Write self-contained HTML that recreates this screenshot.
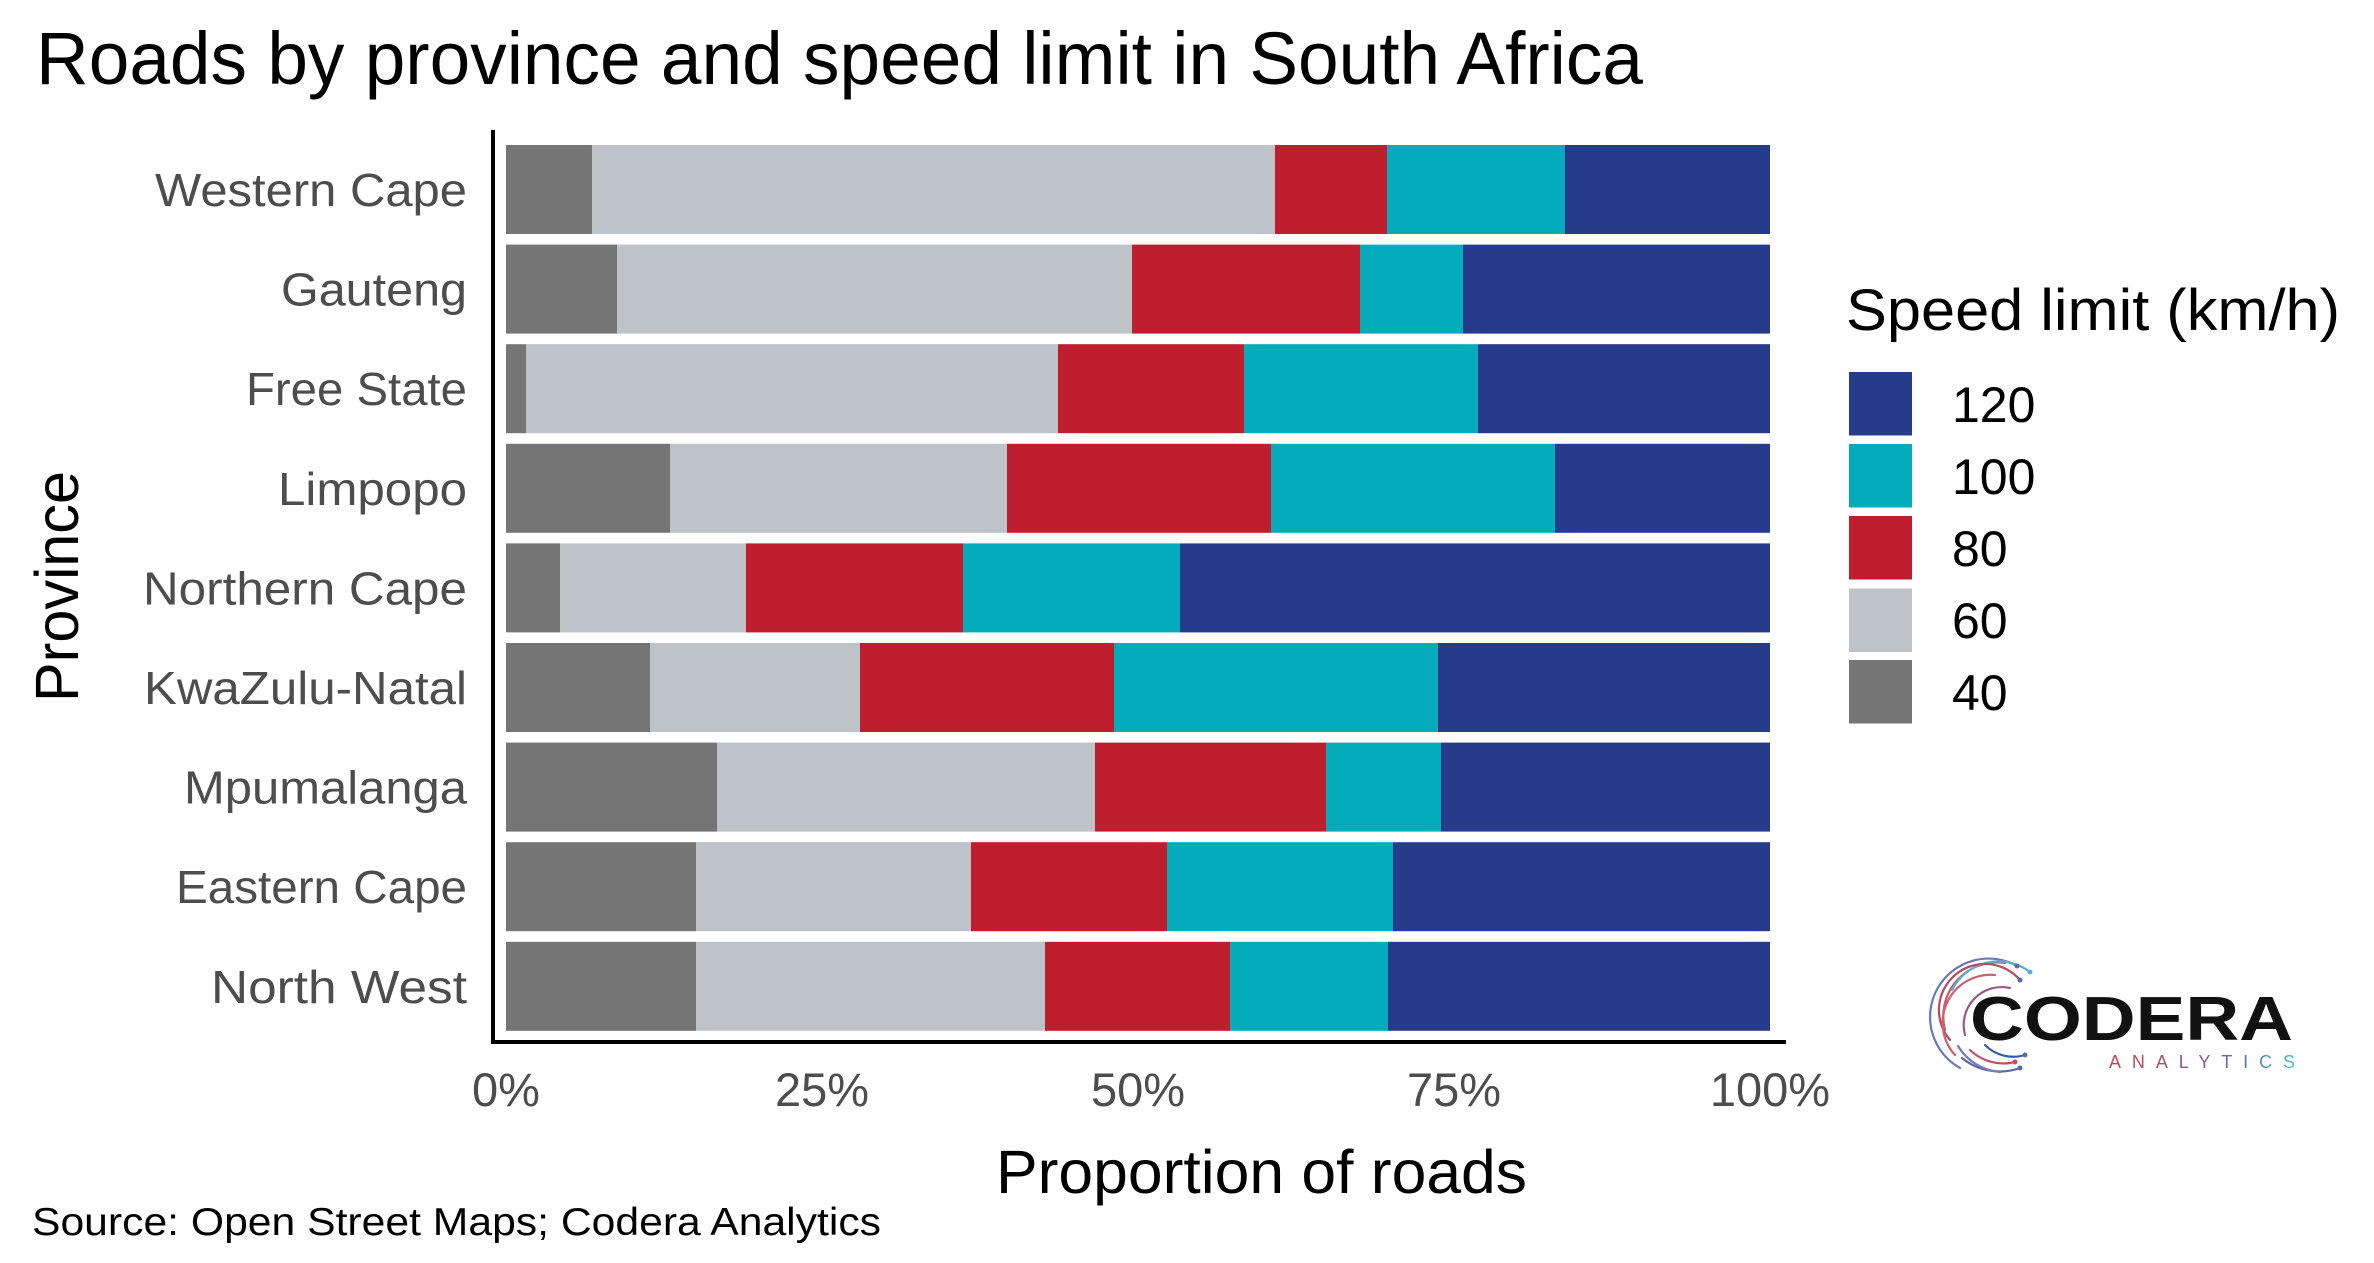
<!DOCTYPE html>
<html>
<head>
<meta charset="utf-8">
<style>
  html, body { margin: 0; padding: 0; background: #ffffff; }
  svg { display: block; }
  text { font-family: "Liberation Sans", "DejaVu Sans", sans-serif; }
</style>
</head>
<body>
<svg width="2374" height="1263" viewBox="0 0 2374 1263" xmlns="http://www.w3.org/2000/svg">
  <defs>
    <linearGradient id="anaGrad" x1="0" y1="0" x2="1" y2="0">
      <stop offset="0" stop-color="#c8464f"/>
      <stop offset="0.45" stop-color="#8a5a8a"/>
      <stop offset="0.7" stop-color="#5a6aa0"/>
      <stop offset="1" stop-color="#52c0cc"/>
    </linearGradient>
  </defs>
  <rect width="2374" height="1263" fill="#ffffff"/>

  <!-- Title -->
  <text x="36" y="84" font-size="74" fill="#000" textLength="1607" lengthAdjust="spacingAndGlyphs">Roads by province and speed limit in South Africa</text>

  <!-- Bars -->
  <g>
    <!-- Western Cape -->
    <rect x="506" y="145" width="86" height="89" fill="#757575"/>
    <rect x="592" y="145" width="683" height="89" fill="#bec3c9"/>
    <rect x="1275" y="145" width="112" height="89" fill="#be1e2d"/>
    <rect x="1387" y="145" width="178" height="89" fill="#04abbb"/>
    <rect x="1565" y="145" width="205" height="89" fill="#273b8b"/>
    <!-- Gauteng -->
    <rect x="506" y="244.6" width="111" height="89" fill="#757575"/>
    <rect x="617" y="244.6" width="515" height="89" fill="#bec3c9"/>
    <rect x="1132" y="244.6" width="228" height="89" fill="#be1e2d"/>
    <rect x="1360" y="244.6" width="103" height="89" fill="#04abbb"/>
    <rect x="1463" y="244.6" width="307" height="89" fill="#273b8b"/>
    <!-- Free State -->
    <rect x="506" y="344.2" width="20" height="89" fill="#757575"/>
    <rect x="526" y="344.2" width="532" height="89" fill="#bec3c9"/>
    <rect x="1058" y="344.2" width="186" height="89" fill="#be1e2d"/>
    <rect x="1244" y="344.2" width="234" height="89" fill="#04abbb"/>
    <rect x="1478" y="344.2" width="292" height="89" fill="#273b8b"/>
    <!-- Limpopo -->
    <rect x="506" y="443.8" width="164" height="89" fill="#757575"/>
    <rect x="670" y="443.8" width="337" height="89" fill="#bec3c9"/>
    <rect x="1007" y="443.8" width="264" height="89" fill="#be1e2d"/>
    <rect x="1271" y="443.8" width="284" height="89" fill="#04abbb"/>
    <rect x="1555" y="443.8" width="215" height="89" fill="#273b8b"/>
    <!-- Northern Cape -->
    <rect x="506" y="543.4" width="54" height="89" fill="#757575"/>
    <rect x="560" y="543.4" width="186" height="89" fill="#bec3c9"/>
    <rect x="746" y="543.4" width="217" height="89" fill="#be1e2d"/>
    <rect x="963" y="543.4" width="217" height="89" fill="#04abbb"/>
    <rect x="1180" y="543.4" width="590" height="89" fill="#273b8b"/>
    <!-- KwaZulu-Natal -->
    <rect x="506" y="643" width="144" height="89" fill="#757575"/>
    <rect x="650" y="643" width="210" height="89" fill="#bec3c9"/>
    <rect x="860" y="643" width="254" height="89" fill="#be1e2d"/>
    <rect x="1114" y="643" width="324" height="89" fill="#04abbb"/>
    <rect x="1438" y="643" width="332" height="89" fill="#273b8b"/>
    <!-- Mpumalanga -->
    <rect x="506" y="742.6" width="211" height="89" fill="#757575"/>
    <rect x="717" y="742.6" width="378" height="89" fill="#bec3c9"/>
    <rect x="1095" y="742.6" width="231" height="89" fill="#be1e2d"/>
    <rect x="1326" y="742.6" width="115" height="89" fill="#04abbb"/>
    <rect x="1441" y="742.6" width="329" height="89" fill="#273b8b"/>
    <!-- Eastern Cape -->
    <rect x="506" y="842.2" width="190" height="89" fill="#757575"/>
    <rect x="696" y="842.2" width="275" height="89" fill="#bec3c9"/>
    <rect x="971" y="842.2" width="196" height="89" fill="#be1e2d"/>
    <rect x="1167" y="842.2" width="226" height="89" fill="#04abbb"/>
    <rect x="1393" y="842.2" width="377" height="89" fill="#273b8b"/>
    <!-- North West -->
    <rect x="506" y="941.8" width="190" height="89" fill="#757575"/>
    <rect x="696" y="941.8" width="349" height="89" fill="#bec3c9"/>
    <rect x="1045" y="941.8" width="185" height="89" fill="#be1e2d"/>
    <rect x="1230" y="941.8" width="158" height="89" fill="#04abbb"/>
    <rect x="1388" y="941.8" width="382" height="89" fill="#273b8b"/>
  </g>

  <!-- Axes lines -->
  <line x1="493" y1="130" x2="493" y2="1044" stroke="#000" stroke-width="4"/>
  <line x1="491" y1="1042" x2="1786" y2="1042" stroke="#000" stroke-width="4"/>

  <!-- Y tick labels -->
  <g font-size="46" fill="#4d4d4d" text-anchor="end">
    <text x="467" y="206" textLength="312" lengthAdjust="spacingAndGlyphs">Western Cape</text>
    <text x="467" y="305.6" textLength="186" lengthAdjust="spacingAndGlyphs">Gauteng</text>
    <text x="467" y="405.2" textLength="221" lengthAdjust="spacingAndGlyphs">Free State</text>
    <text x="467" y="504.8" textLength="189" lengthAdjust="spacingAndGlyphs">Limpopo</text>
    <text x="467" y="604.4" textLength="324" lengthAdjust="spacingAndGlyphs">Northern Cape</text>
    <text x="467" y="704" textLength="323" lengthAdjust="spacingAndGlyphs">KwaZulu-Natal</text>
    <text x="467" y="803.6" textLength="283" lengthAdjust="spacingAndGlyphs">Mpumalanga</text>
    <text x="467" y="903.2" textLength="291" lengthAdjust="spacingAndGlyphs">Eastern Cape</text>
    <text x="467" y="1002.8" textLength="256" lengthAdjust="spacingAndGlyphs">North West</text>
  </g>

  <!-- X tick labels -->
  <g font-size="47" fill="#4d4d4d" text-anchor="middle">
    <text x="506" y="1106">0%</text>
    <text x="822" y="1106">25%</text>
    <text x="1138" y="1106">50%</text>
    <text x="1454" y="1106">75%</text>
    <text x="1770" y="1106">100%</text>
  </g>

  <!-- Axis titles -->
  <text x="996" y="1193" font-size="61" fill="#000" textLength="531" lengthAdjust="spacingAndGlyphs">Proportion of roads</text>
  <text transform="translate(78,702) rotate(-90)" x="0" y="0" font-size="61" fill="#000" textLength="231" lengthAdjust="spacingAndGlyphs">Province</text>

  <!-- Legend -->
  <text x="1846" y="330" font-size="58" fill="#000" textLength="494" lengthAdjust="spacingAndGlyphs">Speed limit (km/h)</text>
  <rect x="1849" y="372" width="63" height="63.5" fill="#273b8b"/>
  <rect x="1849" y="444" width="63" height="63.5" fill="#04abbb"/>
  <rect x="1849" y="516" width="63" height="63.5" fill="#be1e2d"/>
  <rect x="1849" y="588.5" width="63" height="63.5" fill="#bec3c9"/>
  <rect x="1849" y="660" width="63" height="63.5" fill="#757575"/>
  <g font-size="50" fill="#000">
    <text x="1952" y="422">120</text>
    <text x="1952" y="494">100</text>
    <text x="1952" y="566">80</text>
    <text x="1952" y="638">60</text>
    <text x="1952" y="710">40</text>
  </g>

  <!-- Source -->
  <text x="32" y="1235" font-size="39" fill="#000" textLength="849" lengthAdjust="spacingAndGlyphs">Source: Open Street Maps; Codera Analytics</text>

  <!-- Logo -->
  <g fill="none" stroke-width="2.2" stroke-linecap="round">
    <path d="M 2017 966 A 58 58 0 0 0 1960 1068" stroke="#6a78b8"/>
    <path d="M 2005 963 A 54 54 0 0 0 1945 1030" stroke="#c85a6a"/>
    <path d="M 2030 972 A 52 52 0 0 0 1952 990" stroke="#5aaed0"/>
    <path d="M 2020 980 A 46 46 0 0 0 1950 1040" stroke="#b84a5a"/>
    <path d="M 1995 975 A 48 48 0 0 0 1955 1055" stroke="#d06070"/>
    <path d="M 2010 988 A 38 38 0 0 0 1965 1035" stroke="#9a5a8a"/>
    <path d="M 1962 1058 A 60 60 0 0 0 2020 1068" stroke="#5a6ab0"/>
    <path d="M 1970 1050 A 48 48 0 0 0 2015 1062" stroke="#c05060"/>
    <path d="M 1958 1046 A 54 54 0 0 0 2000 1072" stroke="#7a7ab8"/>
    <path d="M 1985 1045 A 40 40 0 0 0 2025 1055" stroke="#3a5aa8"/>
  </g>
  <g fill="#5a6ab0">
    <circle cx="2017" cy="966" r="2.5"/>
    <circle cx="2030" cy="972" r="2.5" fill="#5aaed0"/>
    <circle cx="2020" cy="980" r="2.5"/>
    <circle cx="2020" cy="1068" r="2.5"/>
    <circle cx="2025" cy="1055" r="2.5"/>
    <circle cx="2015" cy="1062" r="2.5" fill="#c05060"/>
  </g>
  <text x="1970" y="1040" font-size="62" font-weight="bold" fill="#111" textLength="323" lengthAdjust="spacingAndGlyphs">CODERA</text>
  <text x="2109" y="1068" font-size="18" fill="url(#anaGrad)" textLength="186" lengthAdjust="spacing">ANALYTICS</text>
</svg>
</body>
</html>
